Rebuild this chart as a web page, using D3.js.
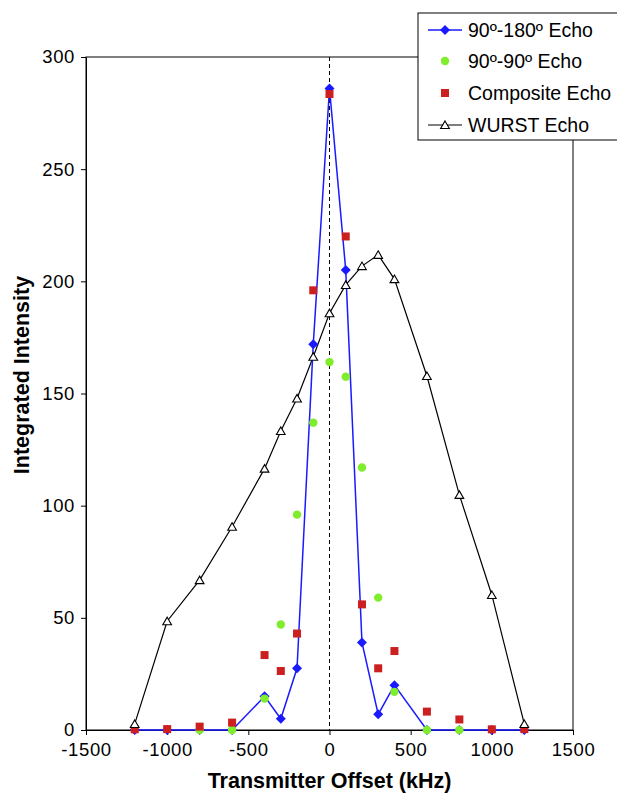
<!DOCTYPE html>
<html>
<head>
<meta charset="utf-8">
<script src="https://cdn.jsdelivr.net/npm/d3@7"></script>
<style>
  html, body { margin: 0; padding: 0; background: #fff; }
  svg { display: block; }
  text { font-family: "Liberation Sans", Arial, sans-serif; }
</style>
</head>
<body>
<script>
// Transmitter offsets (kHz) for every measured point
const offsets = [-1200, -1000, -800, -600, -400, -300, -200, -100, 0, 100, 200, 300, 400, 600, 800, 1000, 1200];

// Integrated intensity of each echo type at those offsets
const echo90_180 = [0, 0, 0, 0, 15, 5, 27.5, 172, 286, 205, 39, 7, 20, 0, 0, 0, 0];
const echo90_90Offsets = [-800, -600, -400, -300, -200, -100, 0, 100, 200, 300, 400, 600, 800];
const echo90_90 = [0, 0, 14, 47, 96, 137, 164, 157.5, 117, 59, 17, 0, 0];
const composite = [0.3, 0.4, 1.5, 3.3, 33.4, 26.3, 43, 196, 283.5, 220, 56, 27.5, 35.2, 8.2, 4.7, 0.3, 0.4];
const wurst = [2.7, 48.5, 66.8, 90.6, 116.5, 133.3, 147.8, 166.4, 185.8, 198.4, 206.8, 211.8, 201, 157.8, 104.8, 60.2, 2.7];

const xTicks = [-1500, -1000, -500, 0, 500, 1000, 1500];
const yTicks = [0, 50, 100, 150, 200, 250, 300];
const legendLabels = ["90º-180º Echo", "90º-90º Echo", "Composite Echo", "WURST Echo"];

const W = 617, H = 793;
const plot = { left: 86, right: 573, top: 57, bottom: 730 };

const svg = d3.select("body").append("svg").attr("width", W).attr("height", H);

const x = d3.scaleLinear().domain([-1500, 1500]).range([plot.left, plot.right]);
const y = d3.scaleLinear().domain([0, 300]).range([plot.bottom, plot.top]);

// plot frame
svg.append("rect")
  .attr("x", plot.left).attr("y", plot.top)
  .attr("width", plot.right - plot.left).attr("height", plot.bottom - plot.top)
  .attr("fill", "none").attr("stroke", "#000").attr("stroke-width", 1);

// axes
const fmt = d => String(d);
const xAxis = svg.append("g")
  .attr("transform", `translate(0,${plot.bottom})`)
  .call(d3.axisBottom(x).tickValues(xTicks).tickFormat(fmt).tickSize(5).tickSizeOuter(0).tickPadding(8));
const yAxis = svg.append("g")
  .attr("transform", `translate(${plot.left},0)`)
  .call(d3.axisLeft(y).tickValues(yTicks).tickFormat(fmt).tickSize(5).tickSizeOuter(0).tickPadding(6));
[xAxis, yAxis].forEach(g => {
  g.attr("font-family", "'Liberation Sans', Arial, sans-serif").attr("font-size", 18.5);
  g.selectAll("path").attr("stroke", "#000");
  g.selectAll("line").attr("stroke", "#000");
  g.selectAll("text").attr("fill", "#000").attr("letter-spacing", 0.6);
});

// zero-offset reference line
svg.append("line")
  .attr("x1", x(0)).attr("x2", x(0))
  .attr("y1", plot.top).attr("y2", plot.bottom)
  .attr("stroke", "#000").attr("stroke-width", 1).attr("stroke-dasharray", "4,3");

// axis titles
svg.append("text")
  .attr("x", x(0)).attr("y", 788)
  .attr("text-anchor", "middle").attr("font-size", 21.5).attr("font-weight", "bold")
  .text("Transmitter Offset (kHz)");
svg.append("text")
  .attr("transform", "translate(29,375) rotate(-90)")
  .attr("text-anchor", "middle").attr("font-size", 21.5).attr("font-weight", "bold")
  .text("Integrated Intensity");

const line = d3.line().x(d => x(d[0])).y(d => y(d[1]));

const wurstPts = offsets.map((o, i) => [o, wurst[i]]);
const bluePts = offsets.map((o, i) => [o, echo90_180[i]]);
const greenPts = echo90_90Offsets.map((o, i) => [o, echo90_90[i]]);
const redPts = offsets.map((o, i) => [o, composite[i]]);

const BLUE = "#1a1aff", GREEN = "#7fec2c", RED = "#cc1f1f";

const triPath = d3.symbol().type(d3.symbolTriangle).size(33)();
const diaPath = "M0,-5L5,0L0,5L-5,0Z";

// WURST echo
svg.append("path").attr("d", line(wurstPts))
  .attr("fill", "none").attr("stroke", "#000").attr("stroke-width", 1.2);

// 90-180 echo
svg.append("path").attr("d", line(bluePts))
  .attr("fill", "none").attr("stroke", BLUE).attr("stroke-width", 1.5);
svg.append("g").selectAll("path").data(bluePts).join("path")
  .attr("d", diaPath)
  .attr("transform", d => `translate(${x(d[0])},${y(d[1])})`)
  .attr("fill", BLUE);

// 90-90 echo
svg.append("g").selectAll("circle").data(greenPts).join("circle")
  .attr("cx", d => x(d[0])).attr("cy", d => y(d[1])).attr("r", 4.2)
  .attr("fill", GREEN);

// composite echo
svg.append("g").selectAll("rect").data(redPts).join("rect")
  .attr("x", d => x(d[0]) - 4).attr("y", d => y(d[1]) - 4)
  .attr("width", 8).attr("height", 8).attr("fill", RED);

// WURST triangles
svg.append("g").selectAll("path").data(wurstPts).join("path")
  .attr("d", triPath)
  .attr("transform", d => `translate(${x(d[0])},${y(d[1]) + 1})`)
  .attr("fill", "#fff").attr("stroke", "#000").attr("stroke-width", 1.1);

// legend
const lg = svg.append("g").attr("transform", "translate(418,13)");
lg.append("rect").attr("x", 0).attr("y", 0).attr("width", 220).attr("height", 127)
  .attr("fill", "#fff").attr("stroke", "#000").attr("stroke-width", 1);
const rowY = [17, 48, 80, 112];
legendLabels.forEach((lab, i) => {
  const g = lg.append("g").attr("transform", `translate(0,${rowY[i]})`);
  if (i === 0) {
    g.append("line").attr("x1", 10).attr("x2", 44).attr("y1", 0).attr("y2", 0)
      .attr("stroke", BLUE).attr("stroke-width", 1.5);
    g.append("path").attr("d", diaPath).attr("transform", "translate(27,0)").attr("fill", BLUE);
  } else if (i === 1) {
    g.append("circle").attr("cx", 27).attr("cy", 0).attr("r", 4.2).attr("fill", GREEN);
  } else if (i === 2) {
    g.append("rect").attr("x", 23).attr("y", -4).attr("width", 8).attr("height", 8).attr("fill", RED);
  } else {
    g.append("line").attr("x1", 10).attr("x2", 44).attr("y1", 0).attr("y2", 0)
      .attr("stroke", "#000").attr("stroke-width", 1.2);
    g.append("path").attr("d", triPath).attr("transform", "translate(27,1)")
      .attr("fill", "#fff").attr("stroke", "#000").attr("stroke-width", 1.1);
  }
  g.append("text").attr("x", 50).attr("y", 6.5).attr("font-size", 19.5).text(lab);
});
</script>
</body>
</html>
